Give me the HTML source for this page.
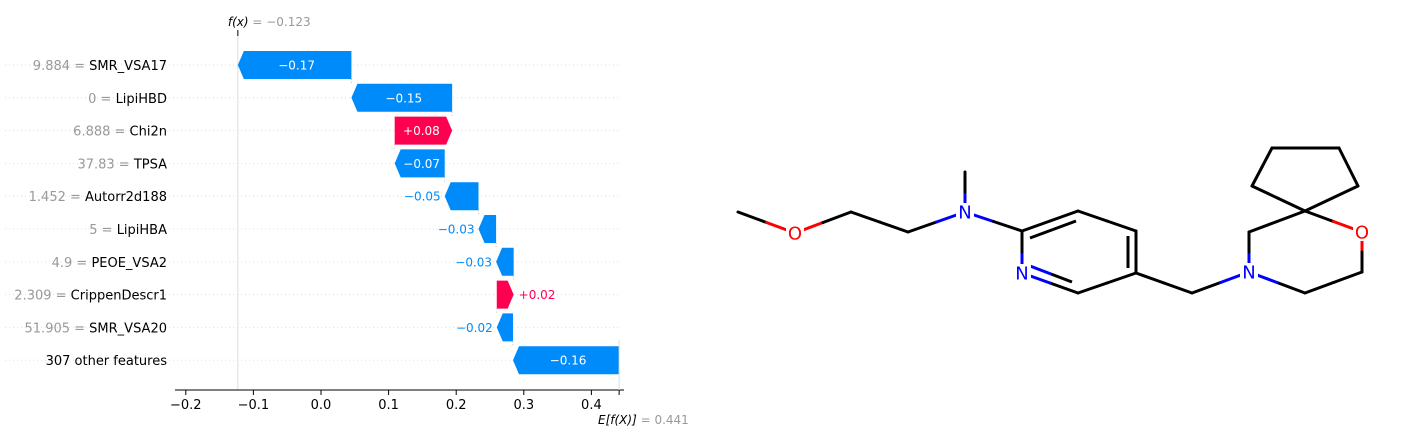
<!DOCTYPE html>
<html><head><meta charset="utf-8"><style>
body{margin:0;background:#fff;}
svg{display:block;font-family:"DejaVu Sans","Liberation Sans",sans-serif;}
</style></head><body>
<svg id="chart" width="1406" height="441" viewBox="0 0 1406 441" xmlns="http://www.w3.org/2000/svg">
<g id="plot"></g>
<g id="mol"></g>
</svg>
<script>
const featureNames=["SMR_VSA17","LipiHBD","Chi2n","TPSA","Autorr2d188","LipiHBA","PEOE_VSA2","CrippenDescr1","SMR_VSA20","307 other features"];
const featureValues=["9.884","0","6.888","37.83","1.452","5","4.9","2.309","51.905",""];
const shapValues=[-0.168,-0.149,0.085,-0.074,-0.050,-0.026,-0.026,0.025,-0.024,-0.157];
const shapLabels=["\u22120.17","\u22120.15","+0.08","\u22120.07","\u22120.05","\u22120.03","\u22120.03","+0.02","\u22120.02","\u22120.16"];
const baseValue=0.441;
const fxValue=-0.123;
const xTicks=[-0.2,-0.1,0.0,0.1,0.2,0.3,0.4];
const xTickLabels=["\u22120.2","\u22120.1","0.0","0.1","0.2","0.3","0.4"];

const NS="http://www.w3.org/2000/svg";
function mk(tag,attrs,parent,text){const e=document.createElementNS(NS,tag);for(const k in attrs)e.setAttribute(k,attrs[k]);if(text!==undefined)e.textContent=text;parent.appendChild(e);return e;}
const x=v=>321+676*v;
const rowY=i=>65+i*32.8;
const plot=document.getElementById('plot');
const BLUE="#008bfb",RED="#ff0051";

// gridlines
for(let i=0;i<featureNames.length;i++){
  const g=mk('line',{x1:5,x2:620,y1:rowY(i),y2:rowY(i),stroke:'#ddd','stroke-width':1,'stroke-dasharray':'1,3'},plot);
  
  
}
// f(x) line
const fl=mk('line',{x1:x(fxValue),x2:x(fxValue),y1:36,y2:390,stroke:'#ddd','stroke-width':1},plot);


const ft=mk('line',{x1:x(fxValue),x2:x(fxValue),y1:30,y2:36,stroke:'#000','stroke-width':1},plot);


const fxt=mk('text',{x:x(fxValue)-10,y:26,'font-size':12,fill:'#999'},plot);


mk('tspan',{fill:'#000','font-style':'italic'},fxt,'f(x)');
mk('tspan',{},fxt,' = \u22120.123');

// bars, cumulative from bottom
let cur=baseValue;
const ends=[];
for(let i=featureNames.length-1;i>=0;i--){const s=cur,e=cur+shapValues[i];ends[i]=[s,e];cur=e;}
for(let i=0;i<featureNames.length;i++){
  const [s,e]=ends[i];const yc=rowY(i);const h=28;const top=yc-h/2,bot=yc+h/2;
  const neg=shapValues[i]<0;
  const lo=x(Math.min(s,e)),hi=x(Math.max(s,e));
  const tip=Math.min(6,(hi-lo)*0.6);
  let pts;
  if(neg) pts=[[lo,yc],[lo+tip,top],[hi,top],[hi,bot],[lo+tip,bot]];
  else pts=[[lo,top],[hi-tip,top],[hi,yc],[hi-tip,bot],[lo,bot]];
  const b=mk('polygon',{points:pts.map(p=>p.join(',')).join(' '),fill:neg?BLUE:RED},plot);
  
  
  // connector
  if(i<featureNames.length-1){
    const c=mk('line',{x1:x(s),x2:x(s),y1:bot,y2:rowY(i+1)-h/2,stroke:'#bbb','stroke-width':1,'stroke-dasharray':'1,2'},plot);
    
    
  }
  const w=hi-lo;let t;
  if(w>45) t=mk('text',{x:(lo+hi)/2+(neg?2:-2),y:yc+4.5,'font-size':12,fill:'#fff','text-anchor':'middle'},plot,shapLabels[i]);
  else if(neg) t=mk('text',{x:lo-4,y:yc+4.5,'font-size':12,fill:BLUE,'text-anchor':'end'},plot,shapLabels[i]);
  else t=mk('text',{x:hi+5,y:yc+4.5,'font-size':12,fill:RED,'text-anchor':'start'},plot,shapLabels[i]);
  
  
  // y label
  const yl=mk('text',{x:167,y:yc+5,'font-size':13,'text-anchor':'end',fill:'#999'},plot);
  
  
  if(featureValues[i]!=='') mk('tspan',{},yl,featureValues[i]+' = ');
  mk('tspan',{fill:'#000'},yl,featureNames[i]);
}
// x axis
const ax=mk('line',{x1:175,x2:624,y1:390,y2:390,stroke:'#000','stroke-width':1},plot);


xTicks.forEach((v,i)=>{
  const tk=mk('line',{x1:x(v),x2:x(v),y1:390,y2:395,stroke:'#000'},plot);
  
  
  const tl=mk('text',{x:x(v),y:409,'font-size':13,'text-anchor':'middle'},plot,xTickLabels[i]);
  
  
});
const et=mk('line',{x1:x(baseValue),x2:x(baseValue),y1:390,y2:395,stroke:'#000'},plot);


const el=mk('line',{x1:x(baseValue),x2:x(baseValue),y1:340,y2:390,stroke:'#ddd'},plot);


const ext=mk('text',{x:598,y:424,'font-size':12,fill:'#999'},plot);


mk('tspan',{fill:'#000','font-style':'italic'},ext,'E[f(X)]');
mk('tspan',{},ext,' = 0.441');

// molecule
const mol=document.getElementById('mol');
const bonds=[
 [[738,212],[795,233],'#000','#f00'],[[795,233],[851,212],'#f00','#000'],
 [[851,212],[908,232],'#000','#000'],[[908,232],[965,212],'#000','#00f'],
 [[965,212],[965,172],'#00f','#000'],[[965,212],[1022,231],'#00f','#000'],
 [[1022,231],[1078,211],'#000','#000'],[[1078,211],[1136,231],'#000','#000'],
 [[1136,231],[1136,273],'#000','#000'],[[1136,273],[1078,293],'#000','#000'],
 [[1078,293],[1022,273],'#000','#00f'],[[1022,273],[1022,231],'#00f','#000'],
 [[1136,273],[1192,293],'#000','#000'],[[1192,293],[1249,272],'#000','#00f'],
 [[1249,272],[1249,232],'#00f','#000'],[[1249,232],[1305,211],'#000','#000'],
 [[1305,211],[1362,232],'#000','#f00'],[[1362,232],[1362,272],'#f00','#000'],
 [[1362,272],[1305,293],'#000','#000'],[[1305,293],[1249,272],'#000','#00f'],
 [[1305,211],[1252,186],'#000','#000'],[[1252,186],[1272,148],'#000','#000'],
 [[1272,148],[1339,148],'#000','#000'],[[1339,148],[1358,186],'#000','#000'],
 [[1358,186],[1305,211],'#000','#000']
];
bonds.forEach(([a,b,c1,c2])=>{
  const m=[(a[0]+b[0])/2,(a[1]+b[1])/2];
  let l=mk('line',{x1:a[0],y1:a[1],x2:m[0],y2:m[1],stroke:c1,'stroke-width':3,'stroke-linecap':'round'},mol);
  
  
  l=mk('line',{x1:m[0],y1:m[1],x2:b[0],y2:b[1],stroke:c2,'stroke-width':3,'stroke-linecap':'round'},mol);
  
  
});
// double bond inner lines
[[[1030,238],[1076,221],'#000','#000'],[[1128,236],[1128,268],'#000','#000'],[[1030,266],[1072,282],'#00f','#000']].forEach(([a,b,c1,c2])=>{
  const m=[(a[0]+b[0])/2,(a[1]+b[1])/2];
  let l=mk('line',{x1:a[0],y1:a[1],x2:m[0],y2:m[1],stroke:c1,'stroke-width':3},mol);
  
  
  l=mk('line',{x1:m[0],y1:m[1],x2:b[0],y2:b[1],stroke:c2,'stroke-width':3},mol);
  
  
});
[[795,233,'O','#f00'],[965,212,'N','#00f'],[1022,273,'N','#00f'],[1249,272,'N','#00f'],[1362,232,'O','#f00']].forEach(([ax_,ay,s,c])=>{
  const r=mk('rect',{x:ax_-9,y:ay-9,width:18,height:18,fill:'#fff'},mol);
  
  
  const t=mk('text',{x:ax_,y:ay+6.5,'font-size':18,fill:c,'text-anchor':'middle'},mol,s);
  
  
});
</script>
</body></html>
